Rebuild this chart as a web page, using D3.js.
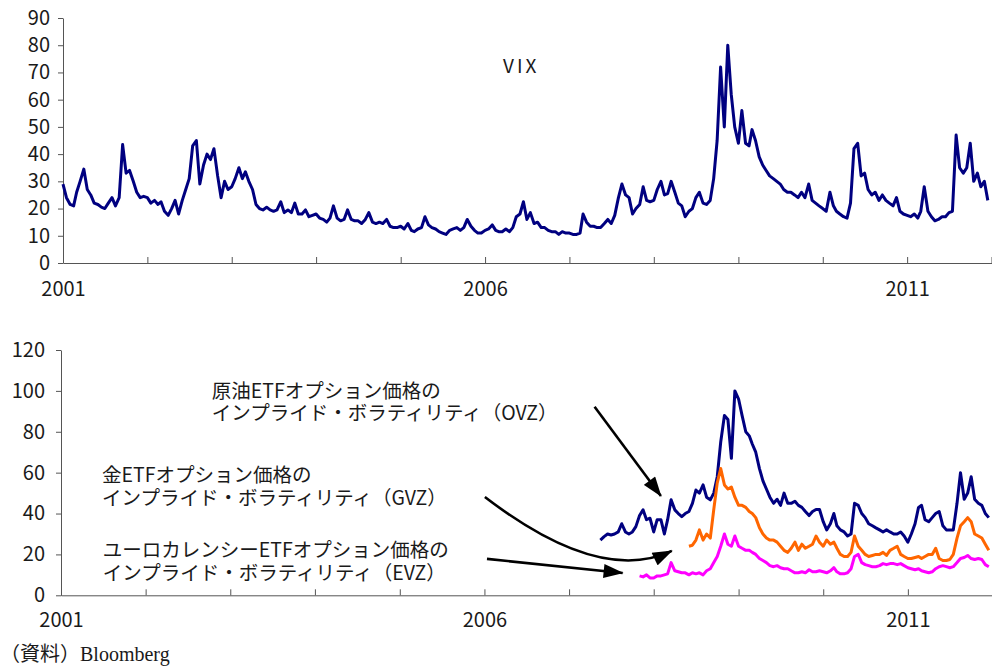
<!DOCTYPE html>
<html lang="ja">
<head>
<meta charset="utf-8">
<title>VIX と ETF オプションのインプライド・ボラティリティ</title>
<script src="https://d3js.org/d3.v7.min.js"></script>
<style>
  body { margin: 0; background: #fff; }
  svg text { font-family: "Noto Sans CJK JP", sans-serif; fill: #1a1a1a; }
  .axis text { font-family: "Liberation Sans Narrow", "Noto Sans CJK JP", sans-serif; font-size: 20px; fill: #1a1a1a; }
  .axis path, .axis line { stroke: #555; stroke-width: 1; }
  .note { font-size: 19.5px; }
</style>
</head>
<body>
<div id="chart"></div>
<script>
// ---- data (semi-monthly readings: 1st and 16th of each month) ----
var vix2001 = [29,24,21.5,21,26,30,34.5,27,25,22,21.5,20.5,20,22,24,21,24,43.5,33,34,30,26,24,24.5];
var vix2002 = [24,22,23,21.5,22.5,19,17.5,20,23,18,23,27,31,43,45,29,36,40,38,42,32,24,30,27];
var vix2003 = [28,31,35,31,33.5,30,27,21.5,20,19.5,20.5,19.5,19,19.5,22.5,18.5,19.5,18.5,22,18,18,19.5,17,17.5];
var vix2004 = [18,16.5,16,15,16.5,21,16.5,15.5,16,19.5,16,15.5,15.5,14.5,16,18.5,15,14.5,15,14.5,16,13.5,13,13];
var vix2005 = [13.5,12.5,14.5,12,11.5,12.5,13,17,14,13,12.5,11.5,11,10.5,12,12.5,13,12,13,16,13.5,12,11,11];
var vix2006 = [12,12.5,14,12,11.5,11.5,12.5,11.5,13,17,18,22.5,16,18.5,14.5,15,13,13,12,11.5,11.5,10.5,11.5,11];
var vix2007 = [11,10.5,10.5,11,18,15,13.5,13.5,13,13,14.5,16,14.5,17.5,24,29,25,24,18,20,21.5,28,23,22.5];
var vix2008 = [23,27,30,25,25.5,30,26,22,21,17,19,20,24,26,22,21.5,23,31,45,72,50,80,62,50];
var vix2009 = [44,56,44,43,49,45,39,36,34,32,31,30,29,27,26,26,25,24,26,24,29,23,22,21];
var vix2010 = [20,19,26,21,19,18,17,16.5,22,42,44,32,33,27,25,26,23,25,23,22,21,24,19,18];
var vix2011 = [17.5,17,18,16.5,19,28,19,17,15.5,16,17,17,18.5,19,47,35,33,35,44,30,33,28,30,23];

// crude oil ETF option IV, from 16 May 2007
var ovzValues = [
  27,28.7,30,29.5,30,31,35,31,30,31,33.6,39,41.8,37,37.7,
  31,37,37,30,37,46.7,41.8,40,38.5,40,41,45,51.5,50,54,48,46.7,50,58,75,88,86,67,100,
  96,88,80,78,74,70,62,56,52,48,45,47,44,50,45,45,46,44,43,41,39,41,42,42,
  36,32,35,40,34,32,31,29,30,45,44,40,38,35,34,33,32,31,32,31,30,30,31,29,
  26,30,35,43,44,37,36,38,40,41,34,32,32,32,45,60,47,50,58,47,45,44,40,38
];
// gold ETF option IV, from 1 Jun 2008
var gvzValues = [
  24,24.5,27,32,27,30,28,42,55,62,54,52,53,48,
  44,44,43,41,40,38,33,30,28,27,27,26,24,22,21,23,26,22,25,23,24,25,29,26,
  24,27,25,26,23,20,19,19,21,29,24,22,20,19,19.5,20,20,21,19.5,22,23,24,20,19,
  18,18,18.5,19,18,19,20,20,23,18,17,17,17.5,20,28,34,36,38,36,30,29,28,25,22
];
// euro currency ETF option IV, from 1 Nov 2007
var evzValues = [
  9.5,9,10,8.5,
  8.5,9.5,9.5,10,10.5,16,12,11.5,11,11,10,11,10.5,11,10,12,13,16,19,24,30,25,24,29,
  24,23,22,22,21,20,18,17,16,14.5,14,14.5,13.5,13,13,12,11,11,11.5,11,12.5,11.5,11.5,12,
  11.5,11,12,13.5,11.5,10.5,10.5,11,13,19,20,16,15,14.5,14,14,14.5,15.5,15,15.5,15.5,15,15.5,14.5,
  13.5,13,12.5,13,12,11.5,11,11.5,13,14,14.5,14,13.5,14,16,18,18.5,19.5,18,17.5,18,17.5,15,14
];

var topTicks = [0,10,20,30,40,50,60,70,80,90];
var bottomTicks = [0,20,40,60,80,100,120];
var yearLabels = [2001, 2006, 2011];

var colors = { vix: "#000080", ovz: "#000080", gvz: "#ff6600", evz: "#ff00ff" };

// annotations, positioned in data space: [date, value]
var notes = [
  { lines: ["原油ETFオプション価格の", "インプライド・ボラティリティ（OVZ）"], at: ["2002-10-13", 101] },
  { lines: ["金ETFオプション価格の", "インプライド・ボラティリティ（GVZ）"], at: ["2001-06-27", 59.8] },
  { lines: ["ユーロカレンシーETFオプション価格の", "インプライド・ボラティリティ（EVZ）"], at: ["2001-06-30", 22.9] }
];
var arrows = [
  { from: ["2007-04-21", 92.2], to: ["2008-02-01", 48.6] },
  { from: ["2006-01-03", 48.1], ctrl: ["2007-05-13", 5.0], to: ["2008-03-19", 21.7] },
  { from: ["2006-01-12", 17.8], to: ["2007-08-20", 10.9] }
];

// ---- helpers ----
function halfMonthly(y0, i0, values) {
  return values.map(function(v, k) {
    var n = i0 + k;
    return { date: new Date(y0 + Math.floor(n / 24), Math.floor((n % 24) / 2), n % 2 ? 16 : 1), value: v };
  });
}
var parseDate = d3.timeParse("%Y-%m-%d");

var vixData = halfMonthly(2001, 0, [].concat(vix2001, vix2002, vix2003, vix2004, vix2005,
  vix2006, vix2007, vix2008, vix2009, vix2010, vix2011));
var ovzData = halfMonthly(2007, 9, ovzValues);
var gvzData = halfMonthly(2008, 10, gvzValues);
var evzData = halfMonthly(2007, 20, evzValues);

var width = 992, height = 667;
var svg = d3.select("#chart").append("svg")
    .attr("width", width)
    .attr("height", height);

var defs = svg.append("defs");
defs.append("marker")
    .attr("id", "head")
    .attr("viewBox", "0 0 20 14")
    .attr("refX", 19).attr("refY", 7)
    .attr("markerWidth", 21).attr("markerHeight", 14)
    .attr("markerUnits", "userSpaceOnUse")
    .attr("orient", "auto")
  .append("path")
    .attr("d", "M0,0L20,7L0,14Z")
    .attr("fill", "#000");

var domainX = [new Date(2001, 0, 1), new Date(2012, 0, 1)];

function yearFormat(d) {
  return yearLabels.indexOf(d.getFullYear()) >= 0 ? d.getFullYear() : "";
}

// draws one panel, returns its scales
function panel(opts) {
  var x = d3.scaleTime().domain(domainX).range(opts.xRange);
  var y = d3.scaleLinear().domain([0, opts.yMax]).range(opts.yRange);

  svg.append("g")
      .attr("class", "axis")
      .attr("transform", "translate(" + opts.xRange[0] + ",0)")
      .call(d3.axisLeft(y).tickValues(opts.ticks).tickSize(5).tickSizeOuter(0).tickPadding(opts.yPad));

  svg.append("g")
      .attr("class", "axis")
      .attr("transform", "translate(0," + opts.yRange[0] + ")")
      .call(d3.axisBottom(x).ticks(d3.timeYear.every(1)).tickFormat(yearFormat)
        .tickSize(-6).tickSizeOuter(0).tickPadding(opts.xPad));

  var line = d3.line()
      .x(function(d) { return x(d.date); })
      .y(function(d) { return y(d.value); });

  opts.series.forEach(function(s) {
    svg.append("path")
        .datum(s.data)
        .attr("fill", "none")
        .attr("stroke", s.color)
        .attr("stroke-width", 3)
        .attr("stroke-linejoin", "round")
        .attr("d", line);
  });
  return { x: x, y: y };
}

// top: VIX
var vixPanel = panel({
  xRange: [63, 991.5], yRange: [263, 18], yMax: 90, ticks: topTicks, yPad: 8, xPad: 19,
  series: [{ data: vixData, color: colors.vix }]
});
svg.append("text")
    .attr("x", vixPanel.x(new Date(2006, 2, 20)))
    .attr("y", vixPanel.y(73))
    .attr("dominant-baseline", "central")
    .attr("letter-spacing", "3px")
    .style("font-size", "19px")
    .text("VIX");

// bottom: ETF option implied vols
var etfPanel = panel({
  xRange: [61, 992.5], yRange: [595.3, 350], yMax: 120, ticks: bottomTicks, yPad: 11, xPad: 18,
  series: [
    { data: ovzData, color: colors.ovz },
    { data: gvzData, color: colors.gvz },
    { data: evzData, color: colors.evz }
  ]
});

notes.forEach(function(n) {
  var t = svg.append("text")
      .attr("class", "note")
      .attr("x", etfPanel.x(parseDate(n.at[0])))
      .attr("y", etfPanel.y(n.at[1]))
      .attr("dominant-baseline", "central");
  n.lines.forEach(function(s, i) {
    t.append("tspan")
        .attr("x", etfPanel.x(parseDate(n.at[0])))
        .attr("dy", i ? 22.5 : 0)
        .text(s);
  });
});

arrows.forEach(function(a) {
  var p0 = [etfPanel.x(parseDate(a.from[0])), etfPanel.y(a.from[1])];
  var p1 = [etfPanel.x(parseDate(a.to[0])), etfPanel.y(a.to[1])];
  var path = d3.path();
  path.moveTo(p0[0], p0[1]);
  if (a.ctrl) {
    path.quadraticCurveTo(etfPanel.x(parseDate(a.ctrl[0])), etfPanel.y(a.ctrl[1]), p1[0], p1[1]);
  } else {
    path.lineTo(p1[0], p1[1]);
  }
  svg.append("path")
      .attr("d", path.toString())
      .attr("fill", "none")
      .attr("stroke", "#000")
      .attr("stroke-width", 2.6)
      .attr("marker-end", "url(#head)");
});

// source
var src = svg.append("text")
    .attr("x", 0)
    .attr("y", 661)
    .style("font-size", "20px");
src.append("tspan").text("（資料）");
src.append("tspan").style("font-family", "'Liberation Serif', serif").text("Bloomberg");
</script>
</body>
</html>
